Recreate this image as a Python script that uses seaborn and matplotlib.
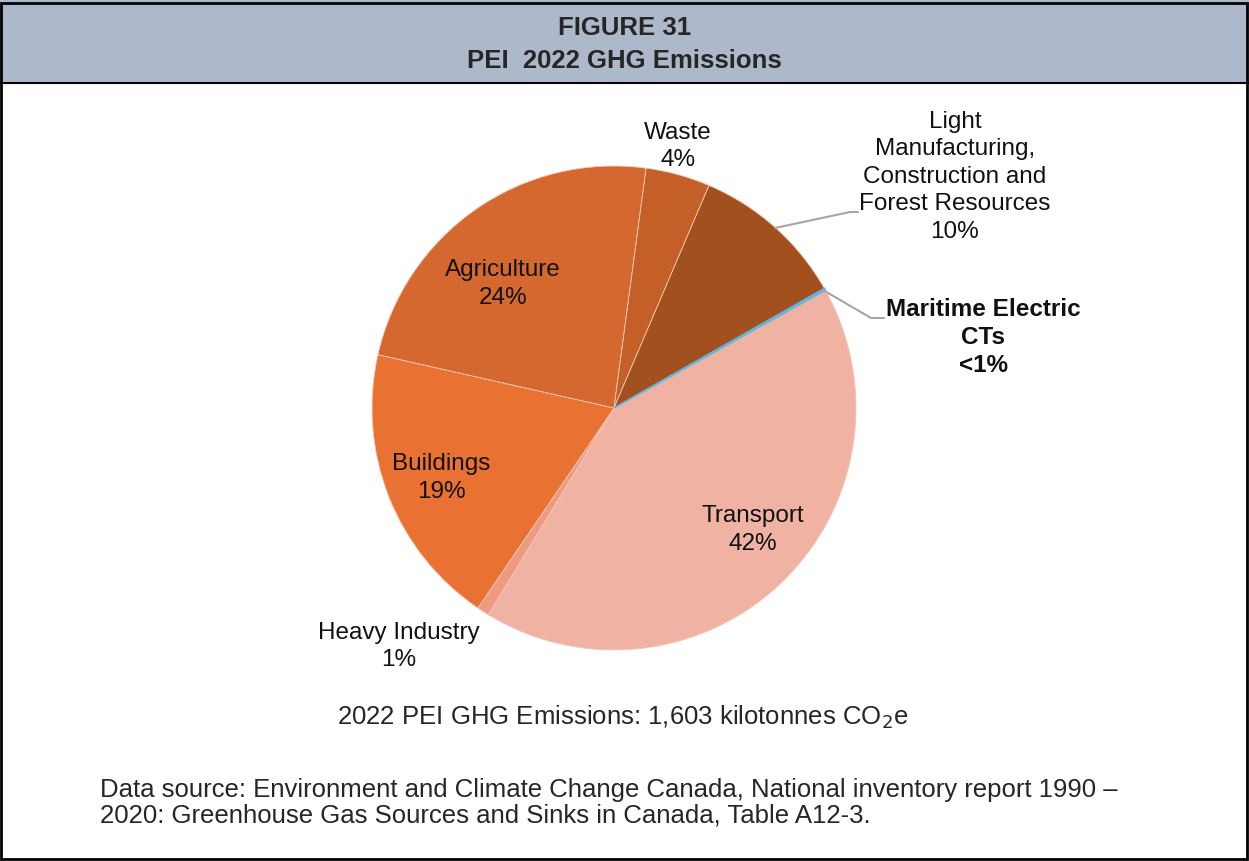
import matplotlib
matplotlib.use("Agg")
import matplotlib.pyplot as plt
import seaborn as sns
from matplotlib.patches import Rectangle
from matplotlib.lines import Line2D

sns.set_style("white")
plt.rcParams['font.family'] = ['Liberation Sans', 'DejaVu Sans']

# Data (kilotonnes CO2e), clockwise order starting at Maritime Electric
categories = ["Maritime Electric CTs", "Transport", "Heavy Industry", "Buildings",
              "Agriculture", "Waste", "Light Manufacturing, Construction and Forest Resources"]
values = [2, 670, 13, 305, 378, 69, 166]
pct_labels = ["<1%", "42%", "1%", "19%", "24%", "4%", "10%"]
colors = ["#5BB8E0", "#F0B3A3", "#EE9A80", "#E97132", "#D4682F", "#C45F28", "#A3501F"]

W, H = 1249, 861
fig = plt.figure(figsize=(W / 100, H / 100), dpi=100)

def fx(x):
    return x / W

def fy(y):
    return 1 - y / H

# Header band and frame
fig.patches.append(Rectangle((0, fy(83)), 1, 1 - fy(83), transform=fig.transFigure,
                             facecolor="#ADB9CA", edgecolor="none", zorder=0))
fig.add_artist(Line2D([0, 1], [fy(83), fy(83)], transform=fig.transFigure, color="black", lw=1.5))
fig.patches.append(Rectangle((fx(1), fy(859)), fx(1246), 1 - fy(857) - 0.001, transform=fig.transFigure,
                             facecolor="none", edgecolor="black", lw=2, zorder=5))

fig.text(0.5, fy(28), "FIGURE 31", ha="center", va="center", fontsize=18.5, fontweight="bold")
fig.text(0.5, fy(61), "PEI  2022 GHG Emissions", ha="center", va="center", fontsize=18.5, fontweight="bold")

# Pie axes: center (614,408), radius 242 px
cx, cy, r = 614, 408, 242
ax = fig.add_axes([fx(cx - r), fy(cy + r), fx(2 * r), (2 * r) / H])
wedges, _ = ax.pie(values, colors=colors, startangle=29.6, counterclock=False, radius=1,
                   wedgeprops=dict(linewidth=0.6, edgecolor="#F3C9B8"))
wedges[0].set_edgecolor(colors[0])
wedges[0].set_linewidth(1.2)
wedges[0].set_zorder(3)
ax.set_xlim(-1, 1)
ax.set_ylim(-1, 1)
ax.set_aspect("equal")
ax.axis("off")

lab_fs = 17.5
def label(x, y, lines, bold=False, gap=27.5):
    for i, t in enumerate(lines):
        fig.text(fx(x), fy(y + i * gap), t, ha="center", va="center", fontsize=lab_fs,
                 fontweight="bold" if bold else "normal", color="#111111")

label(678, 133, ["Waste", pct_labels[5]])
label(955, 122, ["Light", "Manufacturing,", "Construction and", "Forest Resources", pct_labels[6]], gap=27.5)
label(983, 310, ["Maritime Electric", "CTs", pct_labels[0]], bold=True)
label(503, 270, ["Agriculture", pct_labels[4]])
label(441, 464, ["Buildings", pct_labels[3]])
label(753, 516, ["Transport", pct_labels[1]])
label(399, 633, ["Heavy Industry", pct_labels[2]])

# Leader lines
fig.add_artist(Line2D([fx(775), fx(850), fx(858)], [fy(228), fy(212), fy(212)],
                      transform=fig.transFigure, color="#A6A6A6", lw=1.5))
fig.add_artist(Line2D([fx(823), fx(871), fx(884)], [fy(290), fy(318), fy(318)],
                      transform=fig.transFigure, color="#A6A6A6", lw=1.5))

fig.text(fx(623), fy(717), "2022 PEI GHG Emissions: 1,603 kilotonnes CO$_2$e", ha="center", va="center",
         fontsize=18.5)
fig.text(fx(100), fy(790), "Data source: Environment and Climate Change Canada, National inventory report 1990 \u2013",
         ha="left", va="center", fontsize=18.5)
fig.text(fx(100), fy(816), "2020: Greenhouse Gas Sources and Sinks in Canada, Table A12-3.",
         ha="left", va="center", fontsize=18.5)

fig.savefig("out.png", dpi=100, facecolor="white")
